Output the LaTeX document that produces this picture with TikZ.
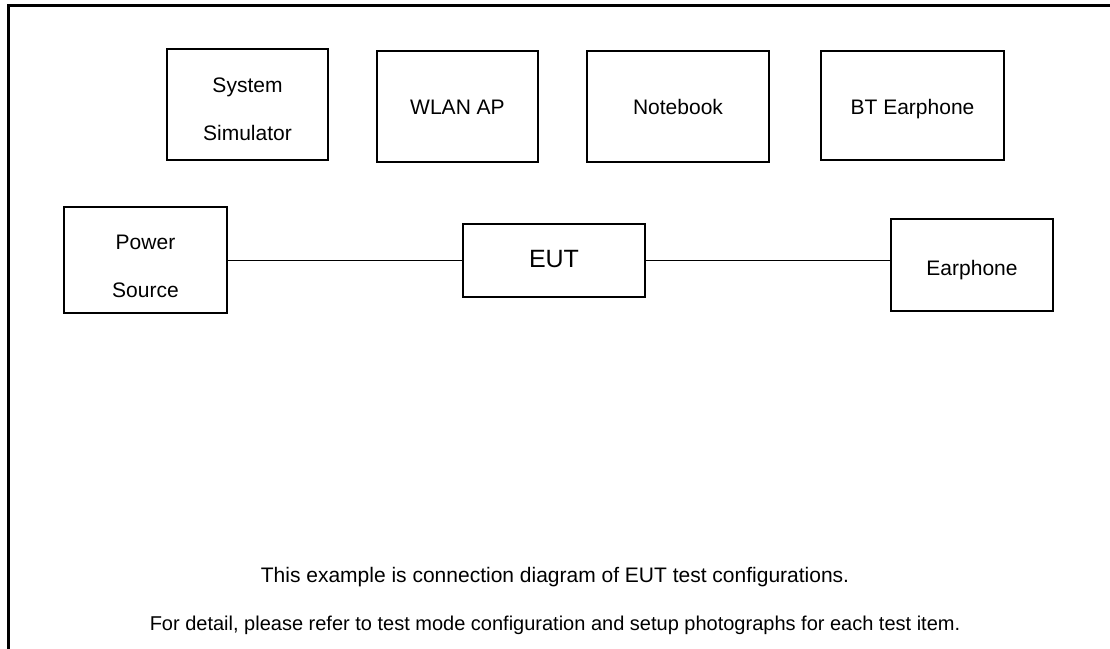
\documentclass[tikz,border=0pt]{standalone}
\usepackage{fontspec}
\setmainfont{Liberation Sans}
% text set a little lower than the box centre
\newcommand{\lowtext}[2][5pt]{\raisebox{-#1}[\height][\depth]{\parbox{150pt}{\centering #2}}}
\begin{document}
\begin{tikzpicture}[x=1pt,y=-1pt,
  box/.style={draw, line width=1.2pt, inner sep=0pt, align=center, font=\fontsize{21}{48}\selectfont},
  note/.style={inner sep=0pt, font=\fontsize{20}{24}\selectfont}]
  \useasboundingbox (0,0) rectangle (1110,648);
  % outer frame, only top and left edge inside the page
  \draw[line width=2.6pt] (8.7,652) -- (8.7,5.3) -- (1114,5.3);
  % top row
  \node[box, minimum width=161pt, minimum height=111pt] (sim) at (247.5,104.5) {\lowtext{System\\Simulator}};
  \node[box, minimum width=161pt, minimum height=111pt] (wlan) at (457.5,106.5) {\lowtext[1pt]{WLAN AP}};
  \node[box, minimum width=182pt, minimum height=111pt] (nb) at (678,106.5) {Notebook};
  \node[box, minimum width=183pt, minimum height=109pt] (bt) at (912.5,105.5) {\lowtext[4pt]{BT Earphone}};
  % middle row
  \node[box, minimum width=163pt, minimum height=106pt] (pwr) at (145.5,260) {\lowtext[6pt]{Power\\Source}};
  \node[box, minimum width=182pt, minimum height=73pt, font=\fontsize{25}{30}\selectfont] (eut) at (554,260.5) {\lowtext[-1pt]{EUT}};
  \node[box, minimum width=162pt, minimum height=92pt] (ear) at (972,265) {\lowtext{Earphone}};
  \draw[line width=1.2pt] (pwr.east |- eut.west) -- (eut.west);
  \draw[line width=1.2pt] (eut.east) -- (ear.west |- eut.east);
  % notes
  \node[note, font=\fontsize{21}{24}\selectfont] (n1) at (555,577) {This example is connection diagram of EUT test configurations.};
  \node[note] (n2) at (555,625) {For detail, please refer to test mode configuration and setup photographs for each test item.};
\end{tikzpicture}
\end{document}
